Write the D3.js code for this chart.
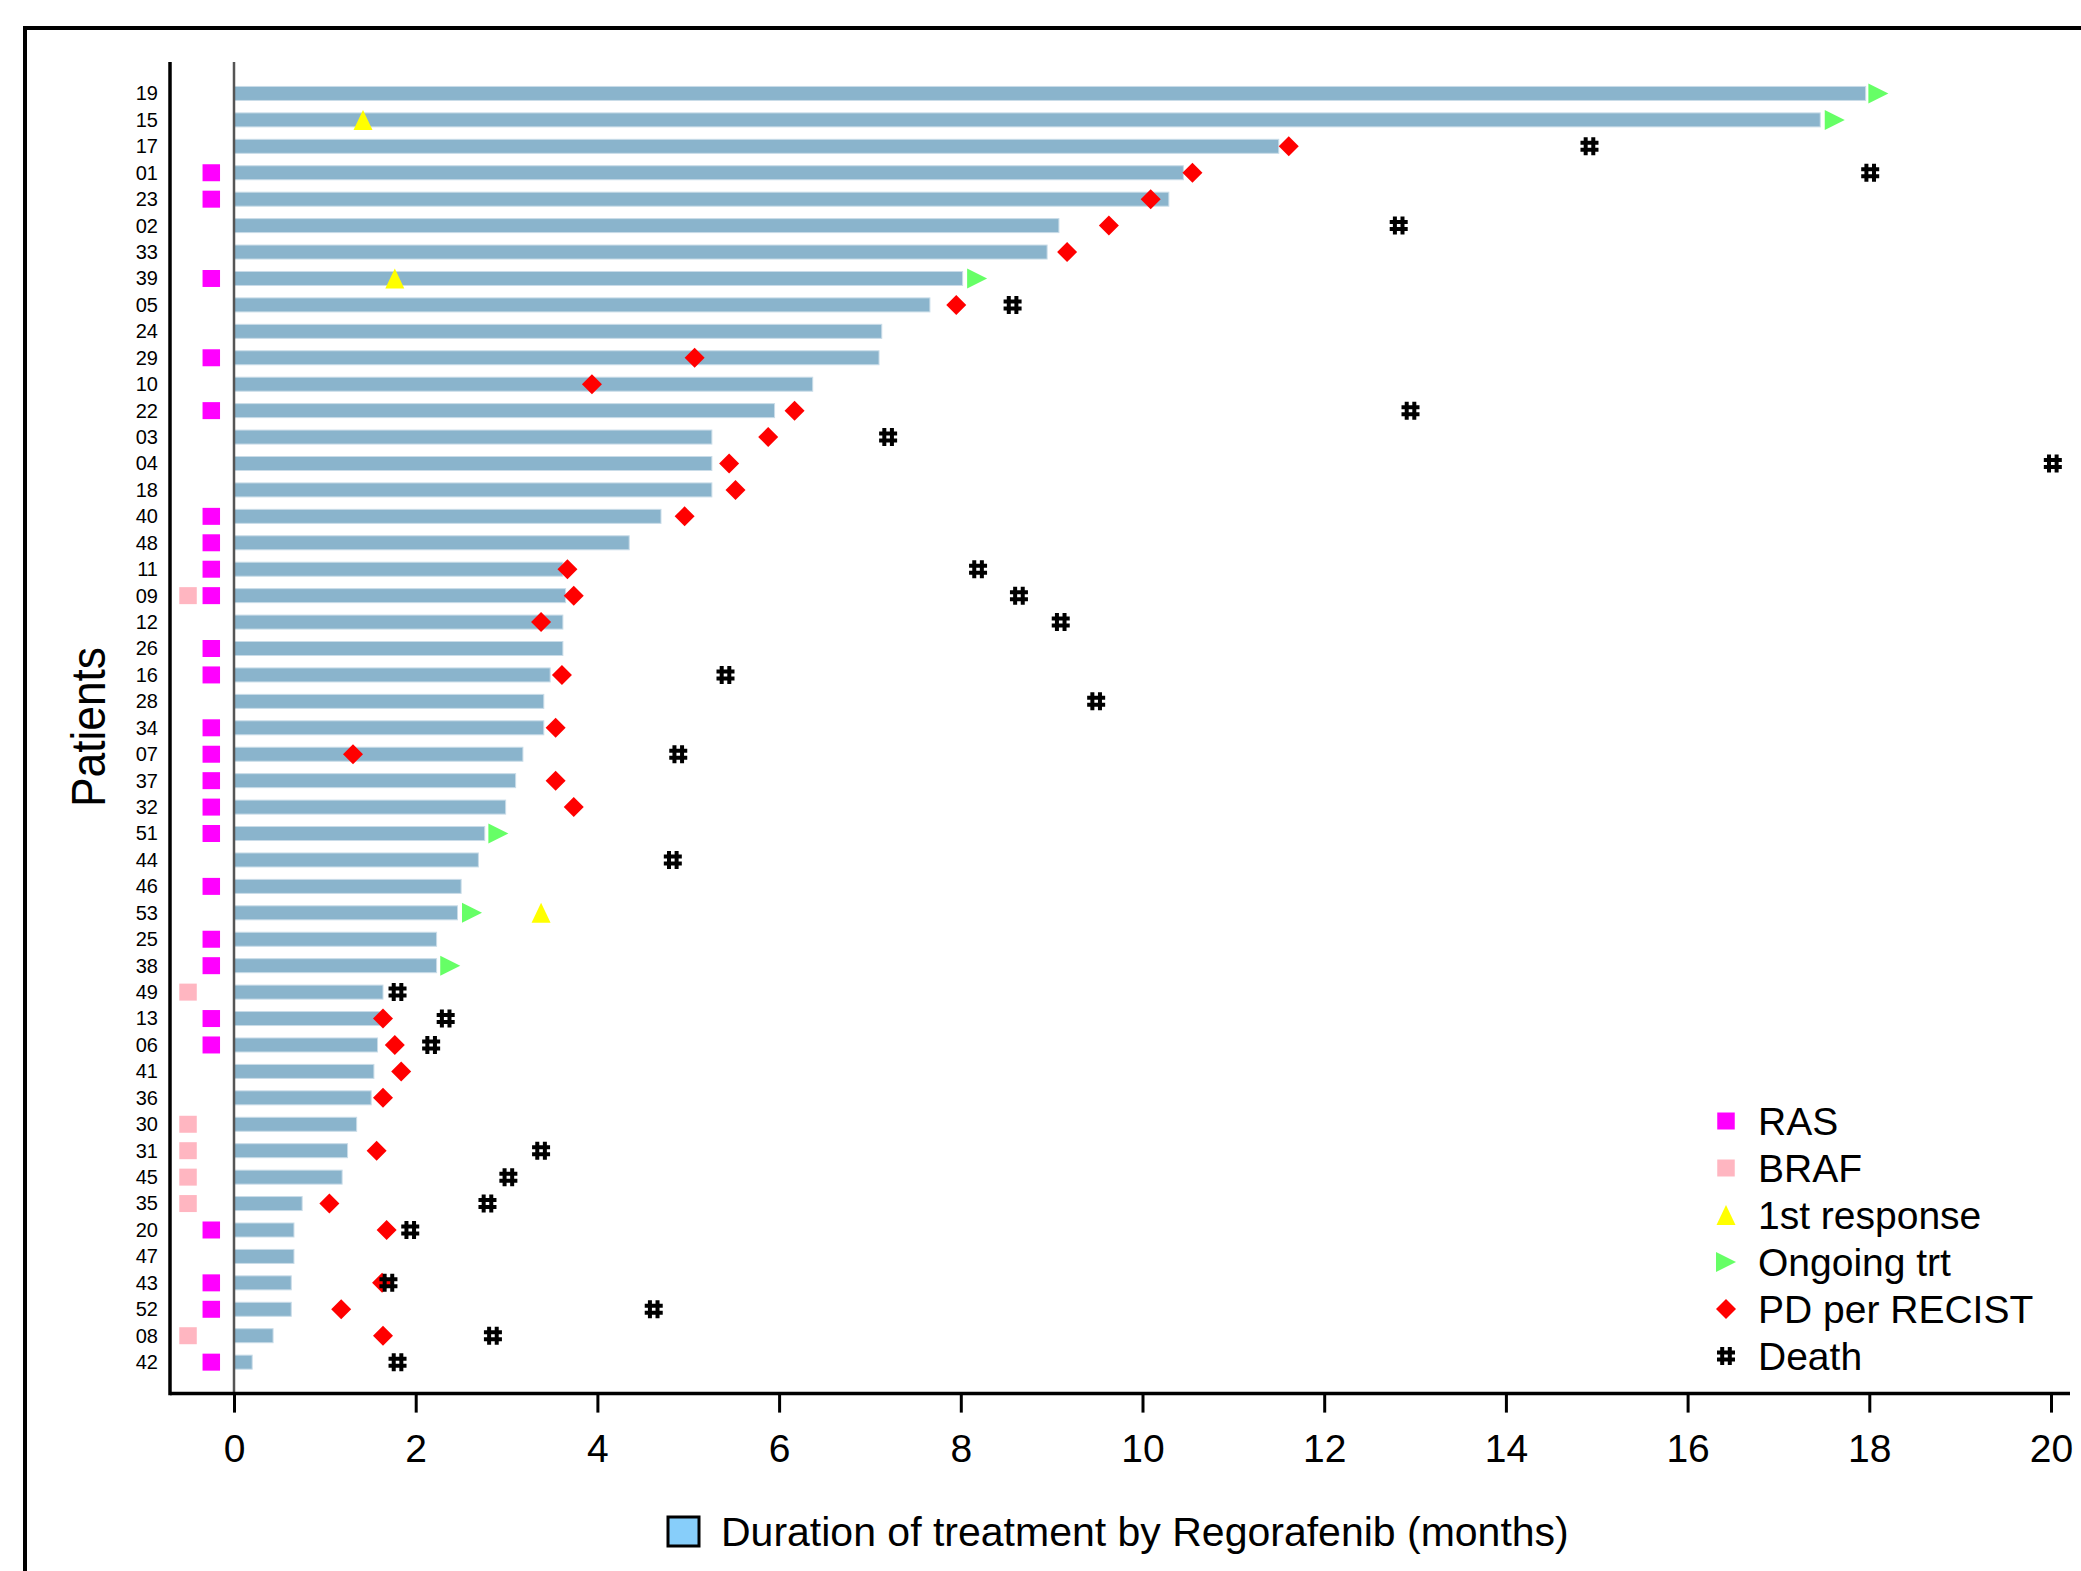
<!DOCTYPE html>
<html>
<head>
<meta charset="utf-8">
<title>Regorafenib swimmer plot</title>
<style>
body { margin: 0; background: #fff; }
svg text { font-family: "Liberation Sans", Arial, sans-serif; fill: #000; }
</style>
</head>
<body>
<svg id="chart" width="2081" height="1571"></svg>
<script src="https://cdn.jsdelivr.net/npm/d3@7"></script>
<script>
// rows from top to bottom
const patients = ['19','15','17','01','23','02','33','39','05','24','29','10','22','03','04','18',
  '40','48','11','09','12','26','16','28','34','07','37','32','51','44','46','53','25','38','49',
  '13','06','41','36','30','31','45','35','20','47','43','52','08','42'];

// months on treatment
const duration = [17.96,17.46,11.5,10.45,10.29,9.08,8.95,8.02,7.66,7.13,7.10,6.37,5.95,5.26,5.26,5.26,
  4.70,4.35,3.62,3.65,3.62,3.62,3.48,3.41,3.41,3.18,3.10,2.99,2.76,2.69,2.50,2.46,2.23,2.23,1.64,
  1.60,1.58,1.54,1.51,1.35,1.25,1.19,0.75,0.66,0.66,0.63,0.63,0.43,0.20];

const rasMut = ['01','23','39','29','22','40','48','11','09','26','16','34','07','37','32','51','46',
  '25','38','13','06','20','43','52','42'];
const brafMut = ['09','49','30','31','45','35','08'];

// [patient, month]
const firstResponse = [['15',1.42],['39',1.77],['53',3.38]];
const ongoing = [['19',18.1],['15',17.62],['39',8.18],['51',2.91],['53',2.62],['38',2.38]];
const pdRecist = [['17',11.61],['01',10.55],['23',10.09],['02',9.63],['33',9.17],['05',7.95],
  ['29',5.07],['10',3.94],['22',6.17],['03',5.88],['04',5.45],['18',5.52],['40',4.96],['11',3.67],
  ['09',3.74],['12',3.38],['16',3.61],['34',3.54],['07',1.31],['37',3.54],['32',3.74],['13',1.64],
  ['06',1.77],['41',1.84],['36',1.64],['31',1.57],['35',1.05],['20',1.68],['43',1.63],['52',1.18],
  ['08',1.64]];
const death = [['17',14.92],['01',18.01],['02',12.82],['05',8.57],['22',12.95],['03',7.20],['04',20.02],
  ['11',8.19],['09',8.64],['12',9.10],['16',5.41],['28',9.49],['07',4.89],['44',4.83],['49',1.80],
  ['13',2.33],['06',2.17],['31',3.38],['45',3.02],['35',2.79],['20',1.94],['43',1.70],['52',4.62],
  ['08',2.85],['42',1.80]];

const xTicks = [0,2,4,6,8,10,12,14,16,18,20];
const legendItems = ['RAS','BRAF','1st response','Ongoing trt','PD per RECIST','Death'];

const RAS_POS = -0.25, BRAF_POS = -0.506;
const BAR_COLOR = '#8ab4cc';

const svg = d3.select('#chart');

const x = d3.scaleLinear().domain([0, 20]).range([234, 2051]);
const y = d3.scalePoint().domain(patients).range([62, 1393.6]).padding(1.19);

// marker shapes
const shapes = {
  square: (w, h) => `M${-w/2},${-h/2}h${w}v${h}h${-w}Z`,
  up: () => 'M0,-10L9.5,10L-9.5,10Z',
  right: () => 'M-10,-10L10,0L-10,10Z',
  diamond: () => 'M0,-10L10,0L0,10L-10,0Z',
  hash: () => 'M-3.8,-9V9M3.8,-9V9M-9,-3.5H9M-9,3.5H9'
};
const styles = {
  ras: {d: shapes.square(17.5, 17), fill: '#ff00ff'},
  braf: {d: shapes.square(17.5, 17), fill: '#ffb6c1'},
  resp: {d: shapes.up(), fill: '#ffff00'},
  ongo: {d: shapes.right(), fill: '#66ff66'},
  pd: {d: shapes.diamond(), fill: '#ff0000'},
  death: {d: shapes.hash(), fill: 'none', stroke: '#000', sw: 4}
};

function drawMarker(g, st, cx, cy) {
  g.append('path')
    .attr('d', st.d)
    .attr('transform', `translate(${cx},${cy})`)
    .attr('fill', st.fill)
    .attr('stroke', st.stroke || 'none')
    .attr('stroke-width', st.sw || 0);
}

// outer frame (runs off the right and bottom)
svg.append('rect')
  .attr('x', 25).attr('y', 28)
  .attr('width', 2200).attr('height', 1700)
  .attr('fill', 'none').attr('stroke', '#000').attr('stroke-width', 4);

// bars
svg.append('g').selectAll('rect')
  .data(patients)
  .join('rect')
  .attr('x', x(0))
  .attr('y', d => y(d) - 7)
  .attr('width', (d, i) => x(duration[i]) - x(0))
  .attr('height', 14)
  .attr('fill', BAR_COLOR)
  .attr('stroke', '#c9dce8')
  .attr('stroke-width', 1);

// zero line
svg.append('line')
  .attr('x1', x(0)).attr('x2', x(0))
  .attr('y1', 62).attr('y2', 1393.6)
  .attr('stroke', '#555').attr('stroke-width', 2.5);

const marks = svg.append('g');
rasMut.forEach(p => drawMarker(marks, styles.ras, x(RAS_POS), y(p)));
brafMut.forEach(p => drawMarker(marks, styles.braf, x(BRAF_POS), y(p)));
firstResponse.forEach(([p, m]) => drawMarker(marks, styles.resp, x(m), y(p)));
ongoing.forEach(([p, m]) => drawMarker(marks, styles.ongo, x(m), y(p)));
pdRecist.forEach(([p, m]) => drawMarker(marks, styles.pd, x(m), y(p)));
death.forEach(([p, m]) => drawMarker(marks, styles.death, x(m), y(p)));

// x axis
const xAxis = svg.append('g')
  .attr('transform', 'translate(0,1393.6)')
  .call(d3.axisBottom(x).tickValues(xTicks).tickSize(19).tickPadding(22).tickSizeOuter(0));
xAxis.select('.domain').remove();
xAxis.selectAll('.tick line').attr('stroke', '#000').attr('stroke-width', 3);
xAxis.selectAll('.tick text')
  .attr('font-size', 39)
  .attr('font-family', '"Liberation Sans", Arial, sans-serif');
svg.append('line')
  .attr('x1', 170).attr('x2', 2070)
  .attr('y1', 1393.6).attr('y2', 1393.6)
  .attr('stroke', '#000').attr('stroke-width', 3.5);

// y axis
const yAxis = svg.append('g')
  .attr('transform', 'translate(170,0)')
  .call(d3.axisLeft(y).tickSize(0).tickPadding(12));
yAxis.select('.domain').remove();
yAxis.selectAll('.tick text')
  .attr('font-size', 20)
  .attr('font-family', '"Liberation Sans", Arial, sans-serif');
svg.append('line')
  .attr('x1', 170).attr('x2', 170)
  .attr('y1', 62).attr('y2', 1395.3)
  .attr('stroke', '#000').attr('stroke-width', 3.5);

svg.append('text')
  .attr('transform', 'translate(105,727) rotate(-90)')
  .attr('text-anchor', 'middle')
  .attr('font-size', 48)
  .attr('textLength', 160)
  .attr('lengthAdjust', 'spacingAndGlyphs')
  .text('Patients');

// x title with its swatch
svg.append('rect')
  .attr('x', 668).attr('y', 1517)
  .attr('width', 31).attr('height', 29)
  .attr('fill', '#87cefa').attr('stroke', '#000').attr('stroke-width', 3);
svg.append('text')
  .attr('x', 721).attr('y', 1546)
  .attr('font-size', 41)
  .text('Duration of treatment by Regorafenib (months)');

// legend
const legendKeys = ['ras', 'braf', 'resp', 'ongo', 'pd', 'death'];
const legend = svg.append('g');
legendItems.forEach((label, i) => {
  const cy = 1121 + i * 47;
  drawMarker(legend, styles[legendKeys[i]], 1726, cy);
  legend.append('text')
    .attr('x', 1758).attr('y', cy)
    .attr('dy', '0.36em')
    .attr('font-size', 39)
    .text(label);
});
</script>
</body>
</html>
